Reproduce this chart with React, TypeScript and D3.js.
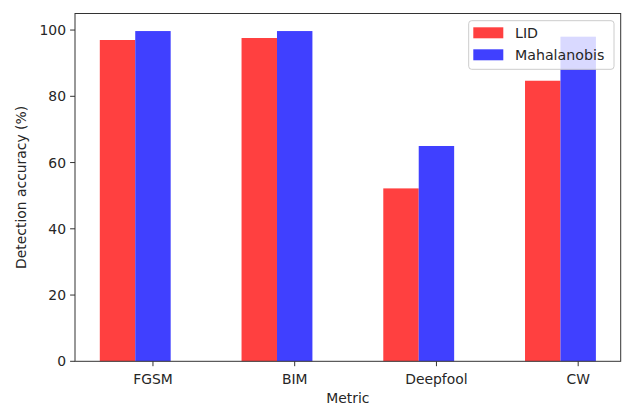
import React from "react";
import * as d3 from "d3";

const categories = ["FGSM", "BIM", "Deepfool", "CW"];
const lidValues = [97.0, 97.6, 52.2, 84.7];
const mahalanobisValues = [99.7, 99.7, 65.0, 98.0];
const yTicks = [0, 20, 40, 60, 80, 100];
const seriesNames = ["LID", "Mahalanobis"];
const seriesColors = ["rgb(255,64,64)", "rgb(64,64,255)"];

const W = 622;
const H = 405;
const left = 75;
const right = 620.7;
const top = 13.5;
const bottom = 361.3;
const barW = 0.25;
const FONT = "'DejaVu Sans', sans-serif";
const TEXT = "#262626";

export default function App() {
  const x = d3.scaleLinear().domain([-0.55, 3.3]).range([left, right]);
  const y = d3.scaleLinear().domain([0, 105]).range([bottom, top]);
  const series = [lidValues, mahalanobisValues];
  const offsets = [-0.375, -0.125];

  return (
    <svg
      width={W}
      height={H}
      style={{ position: "absolute", left: 0, top: 0, display: "block", background: "#fff" }}
      fontFamily={FONT}
    >
      <rect x={0} y={0} width={W} height={H} fill="#fff" />
      {series.map((vals, si) =>
        vals.map((v, i) => {
          const x0 = x(i + offsets[si]);
          const x1 = x(i + offsets[si] + barW);
          return (
            <rect
              key={`${si}-${i}`}
              x={x0}
              y={y(v)}
              width={x1 - x0}
              height={y(0) - y(v)}
              fill={seriesColors[si]}
            />
          );
        })
      )}
      {/* spines */}
      <rect x={left} y={top} width={right - left} height={bottom - top} fill="none" stroke="#333" strokeWidth={1} />
      {/* y ticks */}
      {yTicks.map((t) => (
        <g key={t}>
          <line x1={left - 4.9} x2={left} y1={y(t)} y2={y(t)} stroke="#333" strokeWidth={1} />
          <text x={left - 9} y={y(t)} dy="0.36em" textAnchor="end" fontSize={13.9} fill={TEXT}>
            {t}
          </text>
        </g>
      ))}
      {/* x ticks */}
      {categories.map((c, i) => (
        <g key={c}>
          <line x1={x(i)} x2={x(i)} y1={bottom} y2={bottom + 4.9} stroke="#333" strokeWidth={1} />
          <text x={x(i)} y={bottom + 22.5} textAnchor="middle" fontSize={13.9} fill={TEXT}>
            {c}
          </text>
        </g>
      ))}
      <text x={(left + right) / 2} y={bottom + 42} textAnchor="middle" fontSize={13.9} fill={TEXT}>
        Metric
      </text>
      <text
        transform={`translate(${26},${(top + bottom) / 2}) rotate(-90)`}
        textAnchor="middle"
        fontSize={13.9}
        fill={TEXT}
      >
        Detection accuracy (%)
      </text>
      {/* legend */}
      <g>
        <rect x={468.7} y={20.7} width={145.3} height={48.6} rx={3} fill="#fff" fillOpacity={0.8} stroke="#ccc" strokeWidth={1} />
        {seriesNames.map((n, i) => (
          <g key={n}>
            <rect x={473.3} y={27.3 + i * 22} width={30} height={11} fill={seriesColors[i]} />
            <text x={515} y={37.5 + i * 22} fontSize={14.2} fill={TEXT}>
              {n}
            </text>
          </g>
        ))}
      </g>
    </svg>
  );
}
